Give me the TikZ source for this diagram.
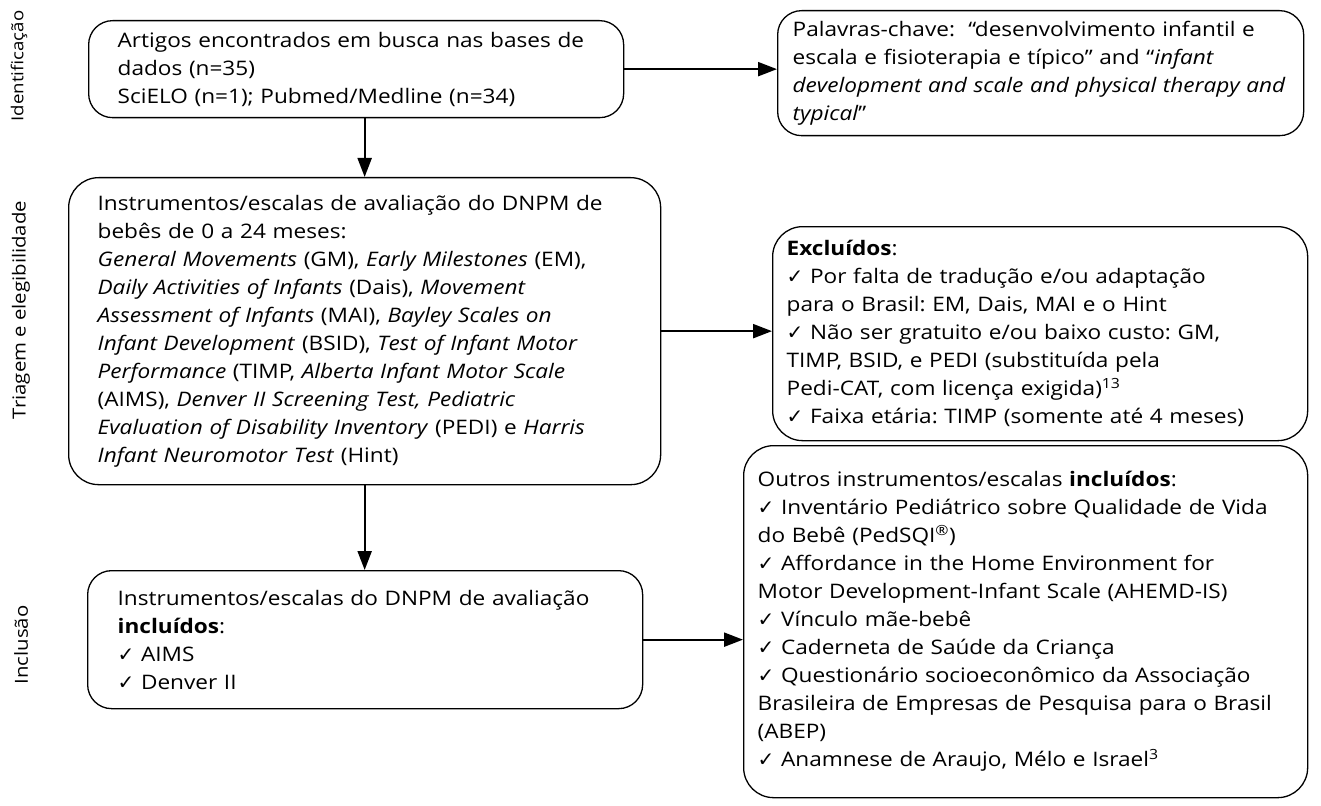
\documentclass[tikz,border=0pt]{standalone}
\usepackage{fontspec}
\setmainfont{Open Sans}[FakeStretch=1.13]
\newfontfamily\dvfont{DejaVu Sans}[Scale=1.0]
\usetikzlibrary{arrows.meta}
\newcommand\ck{{\dvfont\char"2713}}
\frenchspacing
\tikzset{
  box/.style={draw, line width=1.3pt, rounded corners=24pt, anchor=north west,
    align=left, inner ysep=0pt, font=\fontsize{20}{28}\selectfont\frenchspacing},
  arr/.style={line width=2.2pt, -{Triangle[length=19pt,width=14pt]}},
  phase/.style={rotate=90, font=\fontsize{18}{22}\selectfont, inner sep=0pt}
}
\begin{document}
\begin{tikzpicture}[x=1pt,y=-1pt]
\useasboundingbox (0,0) rectangle (1321,805);
\node[phase, font=\fontsize{16.5}{20}\selectfont] (p1) at (19,66) {Identificação};
\node[phase] (p2) at (21,310) {Triagem e elegibilidade};
\node[phase] (p3) at (21,645) {Inclusão};

\node[box, text width=477pt, inner xsep=29pt, minimum width=535pt, minimum height=97pt] (b1) at (88,20)
 {Artigos encontrados em busca nas bases de\\ dados (n=35)\\ SciELO (n=1); Pubmed/Medline (n=34)};

\node[box, text width=496pt, inner xsep=15pt, minimum width=526pt, minimum height=125pt] (b2) at (777,10)
 {Palavras-chave:~~“desenvolvimento infantil e\\ escala e fisioterapia e típico” and “\textit{infant}\\ \textit{development and scale and physical therapy and}\\ \textit{typical}”};

\node[box, rounded corners=30pt, text width=534pt, inner xsep=29pt, minimum width=592pt, minimum height=307pt] (b3) at (68,177)
 {Instrumentos/escalas de avaliação do DNPM de\\ bebês de 0 a 24 meses:\\
 \textit{General Movements} (GM), \textit{Early Milestones} (EM),\\
 \textit{Daily Activities of Infants} (Dais), \textit{Movement}\\
 \textit{Assessment of Infants} (MAI), \textit{Bayley Scales on}\\
 \textit{Infant Development} (BSID), \textit{Test of Infant Motor}\\
 \textit{Performance} (TIMP, \textit{Alberta Infant Motor Scale}\\
 (AIMS), \textit{Denver II Screening Test, Pediatric}\\
 \textit{Evaluation of Disability Inventory} (PEDI) e \textit{Harris}\\
 \textit{Infant Neuromotor Test} (Hint)};

\node[box, rounded corners=30pt, text width=507pt, inner xsep=14pt, minimum width=535pt, minimum height=214pt] (b4) at (772,226)
 {\textbf{Excluídos}:\\
 \ck{} Por falta de tradução e/ou adaptação\\
 para o Brasil: EM, Dais, MAI e o Hint\\
 \ck{} Não ser gratuito e/ou baixo custo: GM,\\
 TIMP, BSID, e PEDI (substituída pela\\
 Pedi-CAT, com licença exigida)\textsuperscript{13}\\
 \ck{} Faixa etária: TIMP (somente até 4 meses)};

\node[box, text width=495pt, inner xsep=30pt, minimum width=555pt, minimum height=138pt] (b5) at (87,570)
 {Instrumentos/escalas do DNPM de avaliação\\
 \textbf{incluídos}:\\
 \ck{} AIMS\\
 \ck{} Denver II};

\node[box, rounded corners=30pt, text width=536pt, inner xsep=14pt, minimum width=564pt, minimum height=352pt] (b6) at (743,445)
 {Outros instrumentos/escalas \textbf{incluídos}:\\
 \ck{} Inventário Pediátrico sobre Qualidade de Vida\\
 do Bebê (PedSQI\textsuperscript{®})\\
 \ck{} Affordance in the Home Environment for\\
 Motor Development-Infant Scale (AHEMD-IS)\\
 \ck{} Vínculo mãe-bebê\\
 \ck{} Caderneta de Saúde da Criança\\
 \ck{} Questionário socioeconômico da Associação\\
 Brasileira de Empresas de Pesquisa para o Brasil\\
 (ABEP)\\
 \ck{} Anamnese de Araujo, Mélo e Israel\textsuperscript{3}\\[8pt]};

\draw[arr] (b1.east) -- (b1.east -| b2.west);
\draw[arr] (b3.north |- b1.south) -- (b3.north);
\draw[arr] (b3.east) -- (b4.west |- b3.east);
\draw[arr] (b3.south) -- (b5.north -| b3.south);
\draw[arr] (b5.east) -- (b5.east -| b6.west);
\end{tikzpicture}
\end{document}
